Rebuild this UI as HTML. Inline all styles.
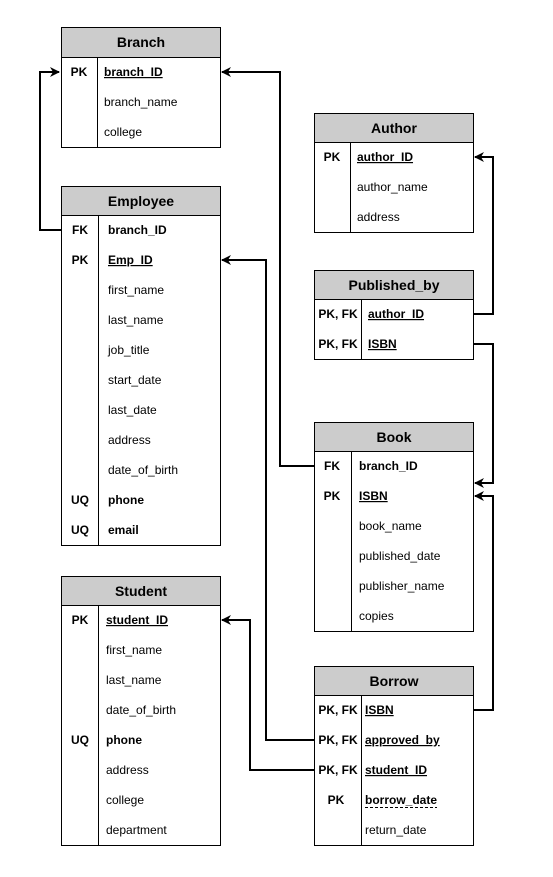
<!DOCTYPE html>
<html><head><meta charset="utf-8"><style>
html,body{margin:0;padding:0;background:#fff;}
svg{display:block;}
text{font-family:"Liberation Sans",Arial,sans-serif;font-size:12px;fill:#000;}
.h{font-size:14px;font-weight:bold;}
.b{font-weight:bold;}
.u{text-decoration:underline;}
</style></head><body>
<svg width="553" height="877" viewBox="0 0 553 877" xmlns="http://www.w3.org/2000/svg">
<defs>
<marker id="a" markerWidth="10" markerHeight="10" refX="9" refY="5" orient="auto" markerUnits="userSpaceOnUse">
<path d="M0,0 L10,5 L0,10 L3,5 Z" fill="#000"/>
</marker>
</defs>
<g fill="none" stroke="#000" stroke-width="2">
<polyline points="61,230 40,230 40,72 59,72" marker-end="url(#a)"/>
<polyline points="314,466 280,466 280,72 222,72" marker-end="url(#a)"/>
<polyline points="314,740 266,740 266,260 222,260" marker-end="url(#a)"/>
<polyline points="314,770 250,770 250,620 222,620" marker-end="url(#a)"/>
<polyline points="473,314 493,314 493,157 475,157" marker-end="url(#a)"/>
<polyline points="473,344 493,344 493,483 475,483" marker-end="url(#a)"/>
<polyline points="473,710 493,710 493,496 475,496" marker-end="url(#a)"/>
</g>
<g stroke="#000" stroke-width="1">
<rect x="61.5" y="27.5" width="159" height="30" fill="#ccc"/>
<rect x="61.5" y="57.5" width="159" height="90" fill="#fff"/>
<line x1="97.5" y1="57.5" x2="97.5" y2="147.5"/>
<rect x="61.5" y="186.5" width="159" height="29" fill="#ccc"/>
<rect x="61.5" y="215.5" width="159" height="330" fill="#fff"/>
<line x1="98.5" y1="215.5" x2="98.5" y2="545.5"/>
<rect x="61.5" y="576.5" width="159" height="29" fill="#ccc"/>
<rect x="61.5" y="605.5" width="159" height="240" fill="#fff"/>
<line x1="98.5" y1="605.5" x2="98.5" y2="845.5"/>
<rect x="314.5" y="113.5" width="159" height="29" fill="#ccc"/>
<rect x="314.5" y="142.5" width="159" height="90" fill="#fff"/>
<line x1="350.5" y1="142.5" x2="350.5" y2="232.5"/>
<rect x="314.5" y="270.5" width="159" height="29" fill="#ccc"/>
<rect x="314.5" y="299.5" width="159" height="60" fill="#fff"/>
<line x1="361.5" y1="299.5" x2="361.5" y2="359.5"/>
<rect x="314.5" y="422.5" width="159" height="29" fill="#ccc"/>
<rect x="314.5" y="451.5" width="159" height="180" fill="#fff"/>
<line x1="351.5" y1="451.5" x2="351.5" y2="631.5"/>
<rect x="314.5" y="666.5" width="159" height="29" fill="#ccc"/>
<rect x="314.5" y="695.5" width="159" height="150" fill="#fff"/>
<line x1="361.5" y1="695.5" x2="361.5" y2="845.5"/>
</g>
<text class="h" x="141" y="47" text-anchor="middle">Branch</text>
<text class="b" x="79" y="76" text-anchor="middle">PK</text>
<text class="b u" x="104" y="76">branch_ID</text>
<text x="104" y="106">branch_name</text>
<text x="104" y="136">college</text>
<text class="h" x="141" y="206" text-anchor="middle">Employee</text>
<text class="b" x="80" y="234" text-anchor="middle">FK</text><text class="b" x="108" y="234">branch_ID</text>
<text class="b" x="80" y="264" text-anchor="middle">PK</text><text class="b u" x="108" y="264">Emp_ID</text>
<text x="108" y="294">first_name</text>
<text x="108" y="324">last_name</text>
<text x="108" y="354">job_title</text>
<text x="108" y="384">start_date</text>
<text x="108" y="414">last_date</text>
<text x="108" y="444">address</text>
<text x="108" y="474">date_of_birth</text>
<text class="b" x="80" y="504" text-anchor="middle">UQ</text><text class="b" x="108" y="504">phone</text>
<text class="b" x="80" y="534" text-anchor="middle">UQ</text><text class="b" x="108" y="534">email</text>
<text class="h" x="141" y="596" text-anchor="middle">Student</text>
<text class="b" x="80" y="624" text-anchor="middle">PK</text><text class="b u" x="106" y="624">student_ID</text>
<text x="106" y="654">first_name</text>
<text x="106" y="684">last_name</text>
<text x="106" y="714">date_of_birth</text>
<text class="b" x="80" y="744" text-anchor="middle">UQ</text><text class="b" x="106" y="744">phone</text>
<text x="106" y="774">address</text>
<text x="106" y="804">college</text>
<text x="106" y="834">department</text>
<text class="h" x="394" y="133" text-anchor="middle">Author</text>
<text class="b" x="332" y="161" text-anchor="middle">PK</text><text class="b u" x="357" y="161">author_ID</text>
<text x="357" y="191">author_name</text>
<text x="357" y="221">address</text>
<text class="h" x="394" y="290" text-anchor="middle">Published_by</text>
<text class="b" x="338" y="318" text-anchor="middle">PK, FK</text><text class="b u" x="368" y="318">author_ID</text>
<text class="b" x="338" y="348" text-anchor="middle">PK, FK</text><text class="b u" x="368" y="348">ISBN</text>
<text class="h" x="394" y="442" text-anchor="middle">Book</text>
<text class="b" x="332" y="470" text-anchor="middle">FK</text><text class="b" x="359" y="470">branch_ID</text>
<text class="b" x="332" y="500" text-anchor="middle">PK</text><text class="b u" x="359" y="500">ISBN</text>
<text x="359" y="530">book_name</text>
<text x="359" y="560">published_date</text>
<text x="359" y="590">publisher_name</text>
<text x="359" y="620">copies</text>
<text class="h" x="394" y="686" text-anchor="middle">Borrow</text>
<text class="b" x="338" y="714" text-anchor="middle">PK, FK</text><text class="b u" x="365" y="714">ISBN</text>
<text class="b" x="338" y="744" text-anchor="middle">PK, FK</text><text class="b u" x="365" y="744">approved_by</text>
<text class="b" x="338" y="774" text-anchor="middle">PK, FK</text><text class="b u" x="365" y="774">student_ID</text>
<text class="b" x="336" y="804" text-anchor="middle">PK</text><text class="b" x="365" y="804">borrow_date</text>
<line x1="365" y1="807.5" x2="437" y2="807.5" stroke="#000" stroke-width="1" stroke-dasharray="3,2"/>
<text x="365" y="834">return_date</text>
</svg>
</body></html>
